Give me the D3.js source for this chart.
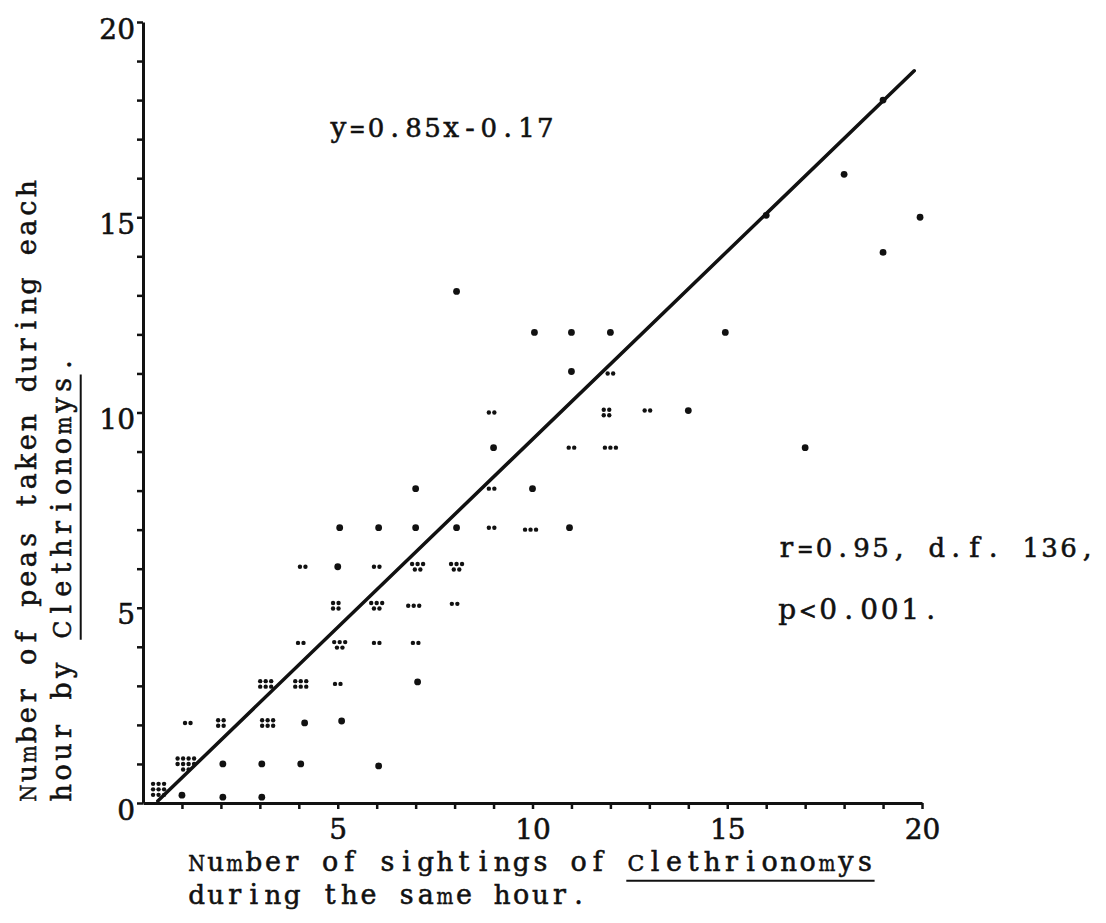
<!DOCTYPE html>
<html>
<head>
<meta charset="utf-8">
<script src="https://cdn.jsdelivr.net/npm/d3@7"></script>
<style>
  html, body { margin: 0; padding: 0; background: #fff; }
  svg { display: block; }
  text { font-family: "DejaVu Serif", "Liberation Serif", serif; fill: #111; stroke: #111; stroke-width: 0.55px; white-space: pre; }
</style>
</head>
<body>
<svg id="chart" width="1106" height="923"></svg>
<script>
// ---- data ----
// each observation group: sightings (x), peas taken (y), number of observations at that spot (n)
const ptX = [0.4, 1.0, 2.05, 3.05, 1.1, 2.05, 3.05, 4.05, 6.05, 1.15, 2.0, 3.2, 4.15, 5.1,
             3.15, 4.05, 5.0, 7.05, 4.05, 5.05, 6.0, 7.0, 4.95, 6.0, 6.95, 8.0,
             4.1, 5.0, 6.0, 7.05, 8.05, 5.05, 6.05, 7.0, 8.05, 8.95, 9.95, 10.95,
             7.0, 8.95, 10.0, 9.0, 11.0, 12.0, 8.95, 11.9, 12.95, 14.0, 11.0, 12.0,
             10.05, 11.0, 12.0, 14.95, 8.05, 16.0, 17.0, 18.0, 19.0, 19.95, 19.0];
const ptY = [0.35, 0.2, 0.15, 0.15, 1.0, 1.0, 1.0, 1.0, 0.95, 2.05, 2.05, 2.05, 2.05, 2.1,
             3.05, 3.05, 3.05, 3.1, 4.1, 4.05, 4.1, 4.1, 5.05, 5.05, 5.05, 5.1,
             6.05, 6.05, 6.05, 6.05, 6.05, 7.05, 7.05, 7.05, 7.05, 7.05, 7.0, 7.05,
             8.05, 8.05, 8.05, 9.1, 9.1, 9.1, 10.0, 10.0, 10.05, 10.05, 11.05, 11.0,
             12.05, 12.05, 12.05, 12.05, 13.1, 15.05, 9.1, 16.1, 14.1, 15.0, 18.0];
const ptN = [9, 1, 1, 1, 10, 1, 1, 1, 1, 2, 4, 6, 1, 1,
             6, 6, 2, 1, 2, 5, 2, 2, 4, 5, 3, 2,
             2, 1, 2, 5, 5, 1, 1, 1, 1, 2, 3, 1,
             1, 2, 1, 1, 2, 3, 2, 4, 2, 1, 1, 2,
             1, 1, 1, 1, 1, 1, 1, 1, 1, 1, 1];

// fitted line as drawn (end points)
const fitX = [0.38, 19.8];
const fitY = [0.05, 18.75];

const xTickValues = d3.range(1, 21);
const yTickValues = d3.range(0, 21);
const xTickLabels = [5, 10, 15, 20];
const yTickLabels = [0, 5, 10, 15, 20];

const yTitle1 = ["Number of peas taken during each"];
const yTitle2 = ["hour by ", "Clethrionomys", "."];
const xTitle1 = ["Number of sightings of ", "Clethrionomys"];
const xTitle2 = ["during the same hour."];
const eqText = ["y=0.85x-0.17"];
const statText1 = ["r=0.95, d.f. 136,"];
const statText2 = ["p<0.001."];

// ---- drawing ----
const svg = d3.select("#chart");
const x = d3.scaleLinear().domain([0, 20]).range([143, 922]);
const y = d3.scaleLinear().domain([0, 20]).range([803, 22]);

// axes
const yAxis = d3.axisLeft(y).tickValues(yTickValues).tickSize(6).tickSizeOuter(0)
  .tickFormat(d => yTickLabels.includes(d) ? d : "");
const gy = svg.append("g").attr("transform", `translate(${x(0)},0)`).call(yAxis);
gy.select(".domain").attr("stroke", "#111").attr("stroke-width", 3);
gy.selectAll(".tick line").attr("stroke", "#111").attr("stroke-width", 2.5);
gy.selectAll(".tick text").attr("font-size", 28).attr("x", -8).attr("dy", null).attr("y", 16)
  .attr("fill", "#111").attr("font-family", null);

const xAxis = d3.axisBottom(x).tickValues(xTickValues).tickSize(6).tickSizeOuter(0)
  .tickFormat(d => xTickLabels.includes(d) ? d : "");
const gx = svg.append("g").attr("transform", `translate(0,${y(0)})`).call(xAxis);
gx.select(".domain").attr("stroke", "#111").attr("stroke-width", 3);
gx.selectAll(".tick line").attr("stroke", "#111").attr("stroke-width", 2.5);
gx.selectAll(".tick text").attr("font-size", 28).attr("dy", null).attr("y", 36)
  .attr("fill", "#111").attr("font-family", null);

// fitted line
svg.append("line")
  .attr("x1", x(fitX[0])).attr("y1", y(fitY[0]))
  .attr("x2", x(fitX[1])).attr("y2", y(fitY[1]))
  .attr("stroke", "#111").attr("stroke-width", 3.5).attr("stroke-linecap", "round");

// points (groups of coincident observations typed as little clusters)
function clusterOffsets(n) {
  if (n === 1) return [[0, 0]];
  const cols = n <= 3 ? n : (n === 4 ? 2 : (n <= 9 ? 3 : 4));
  const rows = Math.ceil(n / cols);
  const s = 5.5;
  const out = [];
  for (let i = 0; i < n; i++) {
    const r = Math.floor(i / cols);
    const inRow = (r === rows - 1) ? n - r * cols : cols;
    const c = i % cols;
    out.push([(c - (inRow - 1) / 2) * s, (r - (rows - 1) / 2) * s]);
  }
  return out;
}
const pts = ptX.map((v, i) => ({ x: v, y: ptY[i], n: ptN[i] }));
const gp = svg.append("g");
pts.forEach(p => {
  const offs = clusterOffsets(p.n);
  gp.selectAll(null).data(offs).enter().append("circle")
    .attr("cx", o => x(p.x) + o[0])
    .attr("cy", o => y(p.y) + o[1])
    .attr("r", p.n === 1 ? 3.4 : 2.2)
    .attr("fill", "#111");
});

// typewriter-style line: one text element, each character in a fixed-width cell;
// characters wider than the cell are squeezed horizontally (and set a little smaller) to fit it
function typeLine(parts, tx, ty, rot, pitch, size, underlineIdx) {
  const g = svg.append("g").attr("transform", `translate(${tx},${ty}) rotate(${rot})`);
  const t = g.append("text").attr("font-size", size).attr("text-anchor", "middle");
  const chars = [...parts.join("")];
  const spans = chars.map((ch, i) => t.append("tspan").attr("x", i * pitch + pitch / 2).attr("y", 0).text(ch));
  const node = t.node();
  const limit = pitch * 0.88;
  chars.forEach((ch, i) => {
    if (ch === " ") return;
    const w = node.getSubStringLength(i, 1);
    if (w > limit) {
      const fs = size * Math.max(0.85, limit / w);
      spans[i].attr("font-size", fs).attr("textLength", limit).attr("lengthAdjust", "spacingAndGlyphs");
    }
  });
  if (underlineIdx != null) {
    const before = parts.slice(0, underlineIdx).join("").length;
    const len = parts[underlineIdx].length;
    g.append("line").attr("x1", before * pitch).attr("x2", (before + len) * pitch)
      .attr("y1", size * 0.36).attr("y2", size * 0.36)
      .attr("stroke", "#111").attr("stroke-width", 2);
  }
  return g;
}

// y axis title (two rotated lines)
typeLine(yTitle1, 36, 803, -90, 19.5, 27, null);
typeLine(yTitle2, 71, 803, -90, 20.4, 27, 1);

// x axis title
typeLine(xTitle1, 187, 871, 0, 19.1, 27, 1);
typeLine(xTitle2, 187, 904, 0, 19.1, 27, null);

// annotations
typeLine(eqText, 329, 137, 0, 18.8, 28, null);
typeLine(statText1, 777, 557, 0, 18.8, 28, null);
typeLine(statText2, 777, 619, 0, 20.5, 28, null);
</script>
</body>
</html>
